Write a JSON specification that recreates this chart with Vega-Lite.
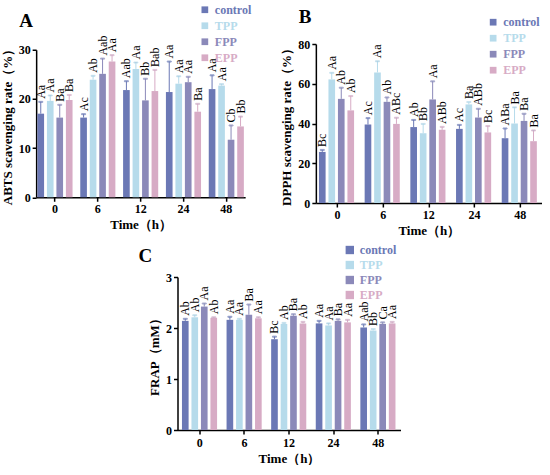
{
  "$schema": "https://vega.github.io/schema/vega-lite/v6.json",
  "padding": {"left": 1, "top": 3, "right": 0, "bottom": 0},
  "background": "white",
  "config": {
    "view": {"stroke": null},
    "axis": {
      "domainColor": "black", "domainWidth": 1.5, "tickColor": "black", "tickWidth": 1.5, "tickSize": 4,
      "labelFont": "Liberation Serif", "labelFontWeight": "bold", "labelFontSize": 12, "labelColor": "black",
      "titleFont": "Liberation Serif", "titleFontWeight": "bold", "titleFontSize": 13, "titleColor": "black",
      "grid": false, "labelOverlap": false, "labelFlush": false, "labelBound": false
    },
    "legend": {
      "labelFont": "Liberation Serif", "labelFontWeight": "bold", "labelFontSize": 12,
      "symbolType": "square", "symbolStrokeWidth": 0, "symbolOpacity": 1, "rowPadding": 4, "labelOffset": 4, "padding": 0
    },
    "title": {"font": "Liberation Serif", "fontWeight": "bold", "fontSize": 19, "color": "black", "anchor": "start", "frame": "group", "baseline": "alphabetic"}
  },
  "datasets": {
    "abts": [
      {"time": "0", "group": "control", "value": 17.0, "upper": 19.4, "sig": "Aa"},
      {"time": "0", "group": "TPP", "value": 19.6, "upper": 20.7, "sig": "Aa"},
      {"time": "0", "group": "FPP", "value": 16.2, "upper": 18.8, "sig": "Ba"},
      {"time": "0", "group": "EPP", "value": 19.8, "upper": 20.8, "sig": "Ba"},
      {"time": "6", "group": "control", "value": 16.2, "upper": 16.9, "sig": "Ac"},
      {"time": "6", "group": "TPP", "value": 23.9, "upper": 24.7, "sig": "Ab"},
      {"time": "6", "group": "FPP", "value": 25.1, "upper": 28.2, "sig": "Aab"},
      {"time": "6", "group": "EPP", "value": 27.6, "upper": 28.9, "sig": "Aa"},
      {"time": "12", "group": "control", "value": 21.8, "upper": 23.6, "sig": "Aab"},
      {"time": "12", "group": "TPP", "value": 26.1, "upper": 27.4, "sig": "Aa"},
      {"time": "12", "group": "FPP", "value": 19.7, "upper": 24.1, "sig": "Bb"},
      {"time": "12", "group": "EPP", "value": 21.6, "upper": 25.9, "sig": "Bab"},
      {"time": "24", "group": "control", "value": 21.4, "upper": 27.6, "sig": "Aa"},
      {"time": "24", "group": "TPP", "value": 23.1, "upper": 24.6, "sig": "Aa"},
      {"time": "24", "group": "FPP", "value": 23.4, "upper": 24.5, "sig": "Aa"},
      {"time": "24", "group": "EPP", "value": 17.4, "upper": 19.0, "sig": "Ba"},
      {"time": "48", "group": "control", "value": 22.0, "upper": 24.8, "sig": "Aa"},
      {"time": "48", "group": "TPP", "value": 22.7, "upper": 23.0, "sig": "Aa"},
      {"time": "48", "group": "FPP", "value": 11.7, "upper": 14.6, "sig": "Cb"},
      {"time": "48", "group": "EPP", "value": 14.4, "upper": 16.4, "sig": "Bb"}
    ],
    "dpph": [
      {"time": "0", "group": "control", "value": 25.7, "upper": 26.7, "sig": "Bc"},
      {"time": "0", "group": "TPP", "value": 62.2, "upper": 65.5, "sig": "Aa"},
      {"time": "0", "group": "FPP", "value": 52.4, "upper": 58.0, "sig": "Ab"},
      {"time": "0", "group": "EPP", "value": 46.6, "upper": 53.8, "sig": "Ab"},
      {"time": "6", "group": "control", "value": 39.5, "upper": 42.7, "sig": "Ac"},
      {"time": "6", "group": "TPP", "value": 65.7, "upper": 71.3, "sig": "Aa"},
      {"time": "6", "group": "FPP", "value": 50.9, "upper": 53.1, "sig": "Ab"},
      {"time": "6", "group": "EPP", "value": 39.8, "upper": 42.9, "sig": "ABc"},
      {"time": "12", "group": "control", "value": 38.2, "upper": 41.8, "sig": "Ab"},
      {"time": "12", "group": "TPP", "value": 35.1, "upper": 39.8, "sig": "Bb"},
      {"time": "12", "group": "FPP", "value": 52.1, "upper": 61.2, "sig": "Aa"},
      {"time": "12", "group": "EPP", "value": 36.8, "upper": 38.3, "sig": "ABb"},
      {"time": "24", "group": "control", "value": 37.3, "upper": 39.3, "sig": "Ac"},
      {"time": "24", "group": "TPP", "value": 49.6, "upper": 50.8, "sig": "Ba"},
      {"time": "24", "group": "FPP", "value": 43.0, "upper": 47.4, "sig": "ABb"},
      {"time": "24", "group": "EPP", "value": 35.5, "upper": 38.7, "sig": "Bc"},
      {"time": "48", "group": "control", "value": 32.6, "upper": 37.5, "sig": "ABa"},
      {"time": "48", "group": "TPP", "value": 40.0, "upper": 48.1, "sig": "Ba"},
      {"time": "48", "group": "FPP", "value": 41.3, "upper": 44.9, "sig": "Ba"},
      {"time": "48", "group": "EPP", "value": 31.1, "upper": 36.5, "sig": "Ba"}
    ],
    "frap": [
      {"time": "0", "group": "control", "value": 2.14, "upper": 2.18, "sig": "Ab"},
      {"time": "0", "group": "TPP", "value": 2.21, "upper": 2.25, "sig": "Ab"},
      {"time": "0", "group": "FPP", "value": 2.42, "upper": 2.48, "sig": "Aa"},
      {"time": "0", "group": "EPP", "value": 2.20, "upper": 2.21, "sig": "Ab"},
      {"time": "6", "group": "control", "value": 2.16, "upper": 2.22, "sig": "Aa"},
      {"time": "6", "group": "TPP", "value": 2.16, "upper": 2.18, "sig": "Aa"},
      {"time": "6", "group": "FPP", "value": 2.26, "upper": 2.46, "sig": "Ba"},
      {"time": "6", "group": "EPP", "value": 2.19, "upper": 2.21, "sig": "Aa"},
      {"time": "12", "group": "control", "value": 1.78, "upper": 1.83, "sig": "Bc"},
      {"time": "12", "group": "TPP", "value": 2.08, "upper": 2.10, "sig": "Ab"},
      {"time": "12", "group": "FPP", "value": 2.24, "upper": 2.27, "sig": "Ba"},
      {"time": "12", "group": "EPP", "value": 2.09, "upper": 2.12, "sig": "Ab"},
      {"time": "24", "group": "control", "value": 2.09, "upper": 2.14, "sig": "Aa"},
      {"time": "24", "group": "TPP", "value": 2.05, "upper": 2.09, "sig": "Aa"},
      {"time": "24", "group": "FPP", "value": 2.14, "upper": 2.17, "sig": "Ba"},
      {"time": "24", "group": "EPP", "value": 2.11, "upper": 2.16, "sig": "Aa"},
      {"time": "48", "group": "control", "value": 2.01, "upper": 2.07, "sig": "Aab"},
      {"time": "48", "group": "TPP", "value": 1.95, "upper": 1.98, "sig": "Bb"},
      {"time": "48", "group": "FPP", "value": 2.08, "upper": 2.11, "sig": "Ca"},
      {"time": "48", "group": "EPP", "value": 2.09, "upper": 2.12, "sig": "Aa"}
    ]
  },
  "vconcat": [
    {
      "hconcat": [
        {
          "width": 209, "height": 147.5,
          "data": {"name": "abts"},
          "title": {"text": "A", "offset": -27.7, "dx": -17},
          "encoding": {
            "x": {"field": "time", "type": "nominal", "sort": ["0", "6", "12", "24", "48"], "scale": {"paddingInner": 0.18, "paddingOuter": 0.03}, "axis": {"title": "Time（h）", "labelAngle": 0, "labelPadding": 2, "titlePadding": 4}},
            "xOffset": {"field": "group", "type": "nominal", "sort": ["control", "TPP", "FPP", "EPP"], "scale": {"paddingInner": 0.3, "paddingOuter": 0}}
          },
          "layer": [
            {"mark": {"type": "bar"}, "encoding": {
              "y": {"field": "value", "type": "quantitative", "scale": {"domain": [0, 30], "nice": false}, "axis": {"tickCount": 3, "title": "ABTS scavenging rate（%）", "titlePadding": 4, "labelPadding": 2, "labelOverlap": false}},
              "color": {"field": "group", "type": "nominal", "sort": ["control", "TPP", "FPP", "EPP"], "scale": {"domain": ["control", "TPP", "FPP", "EPP"], "range": ["#6b78b5", "#b6dbeb", "#8b89b9", "#d7abc5"]},
                "legend": {"title": null, "orient": "none", "legendX": 162.7, "legendY": -46, "symbolSize": 45, "encode": {"labels": {"update": {"fill": {"scale": "color", "field": "value"}}}}}}
            }},
            {"mark": {"type": "rule", "strokeWidth": 1}, "encoding": {
              "y": {"field": "value", "type": "quantitative"}, "y2": {"field": "upper"},
              "stroke": {"field": "group", "type": "nominal", "scale": {"domain": ["control", "TPP", "FPP", "EPP"], "range": ["#6b78b5", "#b6dbeb", "#8b89b9", "#d7abc5"]}, "legend": null}
            }},
            {"mark": {"type": "tick", "thickness": 1, "size": 4, "orient": "horizontal"}, "encoding": {
              "y": {"field": "upper", "type": "quantitative"},
              "stroke": {"field": "group", "type": "nominal", "legend": null}
            }},
            {"mark": {"type": "text", "angle": 270, "align": "left", "baseline": "middle", "dx": 3, "font": "Liberation Serif", "fontSize": 12, "color": "black"}, "encoding": {
              "y": {"field": "upper", "type": "quantitative"}, "text": {"field": "sig"}
            }}
          ]
        },
        {
          "width": 226, "height": 159,
          "data": {"name": "dpph"},
          "title": {"text": "B", "offset": -10.3, "dx": -17},
          "encoding": {
            "x": {"field": "time", "type": "nominal", "sort": ["0", "6", "12", "24", "48"], "scale": {"paddingInner": 0.19, "paddingOuter": 0.068}, "axis": {"title": "Time（h）", "labelAngle": 0, "labelPadding": 2, "titlePadding": 4}},
            "xOffset": {"field": "group", "type": "nominal", "sort": ["control", "TPP", "FPP", "EPP"], "scale": {"paddingInner": 0.3, "paddingOuter": 0}}
          },
          "layer": [
            {"mark": {"type": "bar"}, "encoding": {
              "y": {"field": "value", "type": "quantitative", "scale": {"domain": [0, 80], "nice": false}, "axis": {"tickCount": 4, "title": "DPPH scavenging rate（%）", "titlePadding": 4, "labelPadding": 2, "labelOverlap": false}},
              "color": {"field": "group", "type": "nominal", "sort": ["control", "TPP", "FPP", "EPP"],
                "legend": {"title": null, "orient": "none", "legendX": 171.3, "legendY": -27.8, "symbolSize": 45, "encode": {"labels": {"update": {"fill": {"scale": "color", "field": "value"}}}}}}
            }},
            {"mark": {"type": "rule", "strokeWidth": 1}, "encoding": {
              "y": {"field": "value", "type": "quantitative"}, "y2": {"field": "upper"},
              "stroke": {"field": "group", "type": "nominal", "legend": null}
            }},
            {"mark": {"type": "tick", "thickness": 1, "size": 4, "orient": "horizontal"}, "encoding": {
              "y": {"field": "upper", "type": "quantitative"},
              "stroke": {"field": "group", "type": "nominal", "legend": null}
            }},
            {"mark": {"type": "text", "angle": 270, "align": "left", "baseline": "middle", "dx": 3, "font": "Liberation Serif", "fontSize": 12, "color": "black"}, "encoding": {
              "y": {"field": "upper", "type": "quantitative"}, "text": {"field": "sig"}
            }}
          ]
        }
      ],
      "bounds": "flush", "center": true, "spacing": 70.7,
      "resolve": {"legend": {"color": "independent"}}
    },
    {
      "width": 223, "height": 153,
      "data": {"name": "frap"},
      "title": {"text": "C", "offset": -22.4, "dx": -39},
      "encoding": {
        "x": {"field": "time", "type": "nominal", "sort": ["0", "6", "12", "24", "48"], "scale": {"paddingInner": 0.2, "paddingOuter": 0.1}, "axis": {"title": "Time（h）", "labelAngle": 0, "labelPadding": 3, "titlePadding": 4}},
        "xOffset": {"field": "group", "type": "nominal", "sort": ["control", "TPP", "FPP", "EPP"], "scale": {"paddingInner": 0.3, "paddingOuter": 0}}
      },
      "layer": [
        {"mark": {"type": "bar"}, "encoding": {
          "y": {"field": "value", "type": "quantitative", "scale": {"domain": [0, 3], "nice": false}, "axis": {"tickCount": 3, "title": "FRAP（mM）", "titlePadding": 4, "labelPadding": 2, "labelOverlap": false}},
          "color": {"field": "group", "type": "nominal", "sort": ["control", "TPP", "FPP", "EPP"],
            "legend": {"title": null, "orient": "none", "legendX": 166.3, "legendY": -33, "symbolSize": 70, "rowPadding": 3, "encode": {"labels": {"update": {"fill": {"scale": "color", "field": "value"}}}}}}
        }},
        {"mark": {"type": "rule", "strokeWidth": 1}, "encoding": {
          "y": {"field": "value", "type": "quantitative"}, "y2": {"field": "upper"},
          "stroke": {"field": "group", "type": "nominal", "legend": null}
        }},
        {"mark": {"type": "tick", "thickness": 1, "size": 4, "orient": "horizontal"}, "encoding": {
          "y": {"field": "upper", "type": "quantitative"},
          "stroke": {"field": "group", "type": "nominal", "legend": null}
        }},
        {"mark": {"type": "text", "angle": 270, "align": "left", "baseline": "middle", "dx": 3, "font": "Liberation Serif", "fontSize": 12, "color": "black"}, "encoding": {
          "y": {"field": "upper", "type": "quantitative"}, "text": {"field": "sig"}
        }}
      ]
    }
  ],
  "center": true, "spacing": 7,
  "resolve": {"legend": {"color": "independent"}}
}
